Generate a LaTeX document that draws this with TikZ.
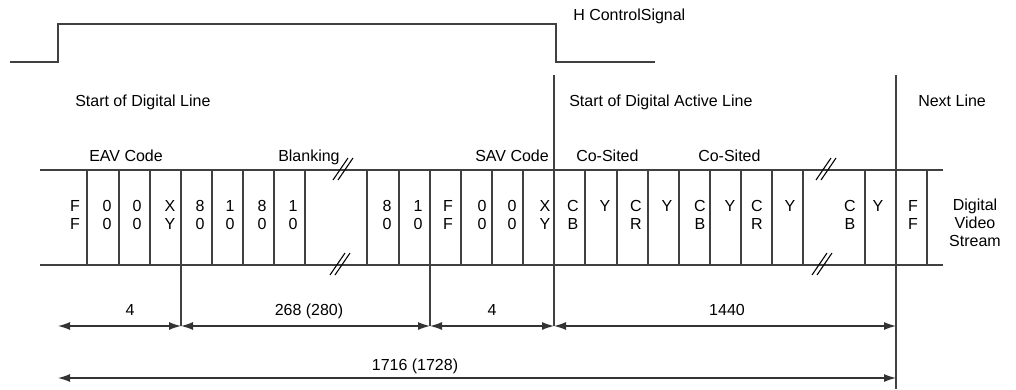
\documentclass[tikz,border=0pt]{standalone}
\usepackage{fontspec}
\setmainfont{Liberation Sans}
\usetikzlibrary{arrows.meta}

\begin{document}
\begin{tikzpicture}[x=0.75pt, y=-0.75pt,
    wire/.style={draw=black!75, line width=1.1pt},
    txt/.style={font=\fontsize{12}{14}\selectfont, inner sep=0pt, anchor=base west},
    sym/.style={font=\fontsize{12}{14}\selectfont, inner sep=0pt, anchor=base},
    dimline/.style={draw=black!80, line width=0.9pt, {Latex[length=9pt,width=6pt]}-{Latex[length=9pt,width=6pt]}},
    brk/.style={draw=black, line width=0.8pt},
]
  \useasboundingbox (0,0) rectangle (1016,389);

  % H control signal
  \draw[wire] (10,62) -- (58,62) -- (58,24) -- (556,24) -- (556,62) -- (655,62);
  \node[txt] (hsig) at (573,21) {H ControlSignal};

  \node[txt] (sdl)  at (75,106)  {Start of Digital Line};
  \node[txt] (sdal) at (569,106) {Start of Digital Active Line};
  \node[txt] (nxt)  at (918,106) {Next Line};

  \node[txt] (eav)   at (89,161)  {EAV Code};
  \node[txt] (blank) at (278,161) {Blanking};
  \node[txt] (sav)   at (475,161) {SAV Code};
  \node[txt] (cs1)   at (576,161) {Co-Sited};
  \node[txt] (cs2)   at (698,161) {Co-Sited};

  % word stream
  \coordinate (sl) at (40,170);
  \coordinate (sr) at (943,170);
  \coordinate (bl) at (40,265);
  \coordinate (br) at (943,265);
  \draw[wire] (sl) -- (sr);
  \draw[wire] (bl) -- (br);
  \foreach \x in {87,119,150,212,243,274,305,367,399,461,492,523,585,617,648,679,710,741,772,803,865,927}
    \draw[wire] (\x,170) -- (\x,265);

  % line boundaries
  \draw[wire] (181,170) -- (181,326);
  \draw[wire] (430,170) -- (430,326);
  \draw[wire] (554,75) -- (554,326);
  \draw[wire] (896,75) -- (896,389);

  \foreach \x/\a/\b [count=\i] in {75/F/F, 107/0/0, 137/0/0, 170/X/Y, 200/8/0, 230/1/0, 262/8/0, 293/1/0,
      387/8/0, 418/1/0, 448/F/F, 482/0/0, 512/0/0, 545/X/Y, 573/C/B, 636/C/R, 700/C/B, 757/C/R, 850/C/B, 913/F/F} {
    \node[sym] (w\i a) at (\x,211) {\a};
    \node[sym] (w\i b) at (\x,229) {\b};
  }
  \foreach \x [count=\i] in {605,667,730,790,878}
    \node[sym] (y\i) at (\x,211) {Y};

  \node[sym] (dv1) at (975,210) {Digital};
  \node[sym] (dv2) at (975,228) {Video};
  \node[sym] (dv3) at (975,246) {Stream};

  % breaks
  \foreach \bx/\by in {343/169, 340/264, 826/169, 822/264} {
    \draw[brk] (\bx-10,\by+11) -- (\bx+5,\by-11);
    \draw[brk] (\bx-5,\by+11) -- (\bx+10,\by-11);
  }

  % dimensions
  \coordinate (d0) at (58,326);
  \coordinate (d1) at (181,326);
  \coordinate (d2) at (430,326);
  \coordinate (d3) at (554,326);
  \coordinate (d4) at (896,326);
  \coordinate (e0) at (58,378);
  \coordinate (e1) at (896,378);
  \draw[dimline] (d0) -- (d1);
  \draw[dimline] (d1) -- (d2);
  \draw[dimline] (d2) -- (d3);
  \draw[dimline] (d3) -- (d4);
  \draw[dimline] (e0) -- (e1);
  \node[sym] (n1) at (130,315) {4};
  \node[sym] (n2) at (309,315) {268 (280)};
  \node[sym] (n3) at (492,315) {4};
  \node[sym] (n4) at (727,315) {1440};
  \node[sym] (n5) at (415,370) {1716 (1728)};
\end{tikzpicture}
\end{document}
